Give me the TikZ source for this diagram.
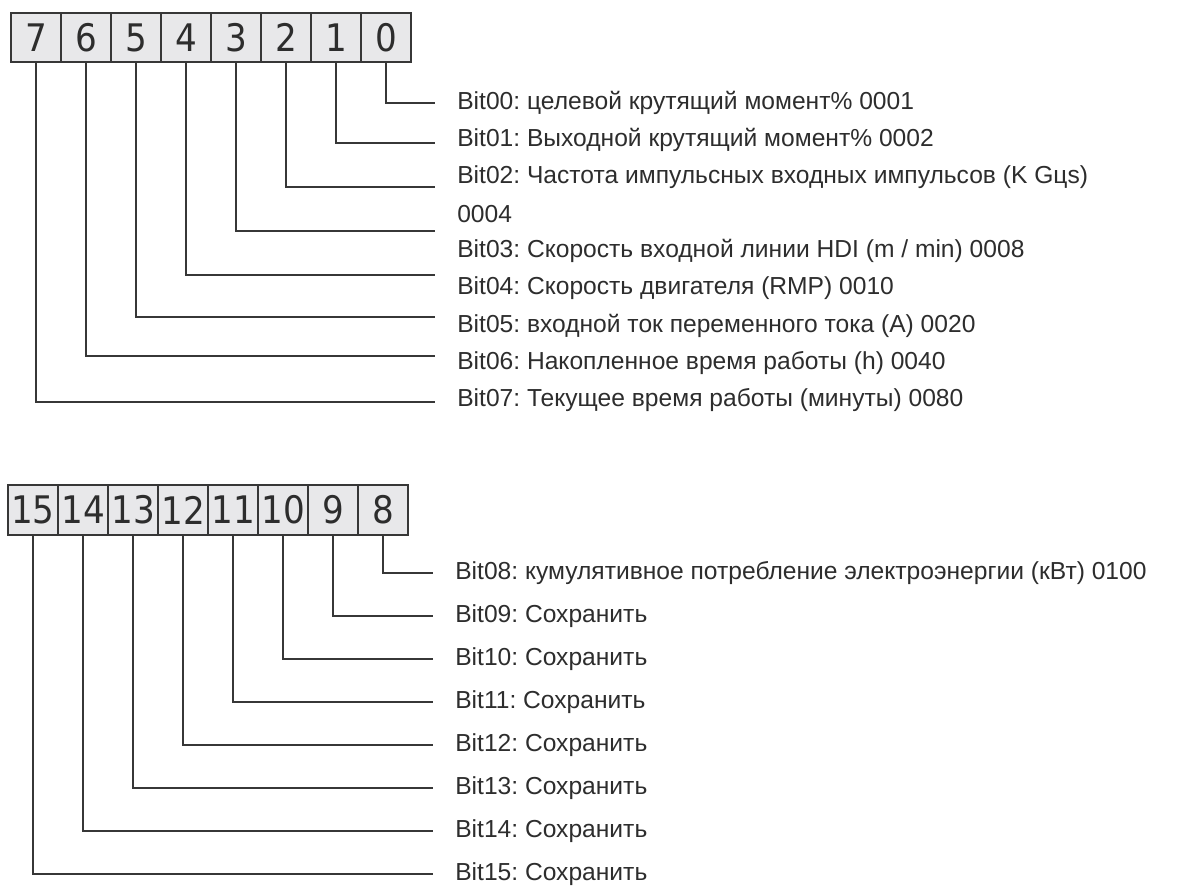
\documentclass[tikz,border=0pt]{standalone}
\usepackage{fontspec}
\setmainfont{Liberation Sans}
\newfontfamily\bitfont[FakeStretch=0.9]{DejaVu Sans}
\usetikzlibrary{positioning}
\frenchspacing
\definecolor{myink}{RGB}{45,45,45}
\definecolor{mywire}{RGB}{55,55,55}
\definecolor{boxfill}{RGB}{232,232,234}
\tikzset{
  bitbox/.style={rectangle, draw=mywire, fill=boxfill,
    minimum width=1.25cm, minimum height=1.23cm, inner sep=0pt, outer sep=0pt,
    font=\bitfont\fontsize{27pt}{27pt}\selectfont, text=myink, line width=1.3pt},
  bittext/.style={anchor=west, inner sep=0pt, text=myink,
    font=\fontsize{17.5pt}{21pt}\selectfont},
  wire/.style={line width=1.3pt, color=mywire}
}

\begin{document}
\begin{tikzpicture}[x=0.025cm, y=-0.025cm]
  \useasboundingbox (0,0) rectangle (1178,890);

  % Low byte
  \node[bitbox] (b7) at (36,37.5) {7};
  \foreach \i [remember=\i as \j (initially 7)] in {6,...,0}
    \node[bitbox, right=0pt of b\j] (b\i) {\i};

  \foreach \txt [count=\k from 0] in {
      {Bit00: целевой крутящий момент\% 0001},
      {Bit01: Выходной крутящий момент\% 0002},
      {Bit02: Частота импульсных входных импульсов (K Gцs)},
      {0004},
      {Bit03: Скорость входной линии HDI (m / min) 0008},
      {Bit04: Скорость двигателя (RMP) 0010},
      {Bit05: входной ток переменного тока (A) 0020},
      {Bit06: Накопленное время работы (h) 0040},
      {Bit07: Текущее время работы (минуты) 0080}}
    \node[bittext] (t\k) at (457,103+37.1*\k) {\txt};

  \foreach \i/\y in {0/103, 1/143, 2/187, 3/231, 4/275, 5/317, 6/356, 7/402} {
    \coordinate (c\i) at (435,\y);
    \draw[wire] (b\i.south) |- (c\i);
  }

  % High byte
  \node[bitbox] (b15) at (33,510) {15};
  \foreach \i [remember=\i as \j (initially 15)] in {14,...,8}
    \node[bitbox, right=0pt of b\j] (b\i) {\i};

  \foreach \txt [count=\k from 8] in {
      {Bit08: кумулятивное потребление электроэнергии (кВт) 0100},
      {Bit09: Сохранить}, {Bit10: Сохранить}, {Bit11: Сохранить},
      {Bit12: Сохранить}, {Bit13: Сохранить}, {Bit14: Сохранить},
      {Bit15: Сохранить}} {
    \node[bittext] (t\k) at (455,573+43*\k-344) {\txt};
    \coordinate (c\k) at (433,573+43*\k-344);
    \draw[wire] (b\k.south) |- (c\k);
  }
\end{tikzpicture}
\end{document}
